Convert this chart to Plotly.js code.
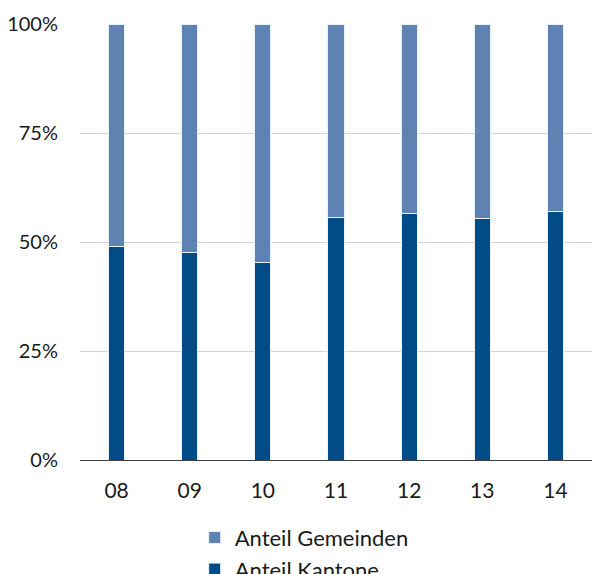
<!DOCTYPE html>
<html>
<head>
<meta charset="utf-8">
<script src="https://cdn.plot.ly/plotly-3.0.1.min.js"></script>
<style>html,body{margin:0;padding:0;background:#fff;}#chart{width:609px;height:574px;}</style>
</head>
<body>
<div id="chart"></div>
<script>
const years = ["08", "09", "10", "11", "12", "13", "14"];
const anteilKantone = [48.9, 47.7, 45.4, 55.7, 56.6, 55.3, 56.9];
const anteilGemeinden = [51.1, 52.3, 54.6, 44.3, 43.4, 44.7, 43.1];
const yTicks = [0, 25, 50, 75, 100];
const yTickLabels = ["0%", "25%", "50%", "75%", "100%"];

const font = "Lato, 'Open Sans', sans-serif";

const traces = [
  {
    type: "bar", name: "Anteil Kantone", x: years, y: anteilKantone,
    marker: {color: "#014C86", line: {color: "#e8f0fa", width: 1}},
    hoverinfo: "skip"
  },
  {
    type: "bar", name: "Anteil Gemeinden", x: years, y: anteilGemeinden,
    marker: {color: "#5E83B3", line: {color: "#e8f0fa", width: 1}},
    hoverinfo: "skip"
  }
];

const layout = {
  width: 609, height: 574,
  margin: {l: 80, r: 17, t: 24, b: 114, autoexpand: false},
  paper_bgcolor: "#fff", plot_bgcolor: "#fff",
  barmode: "stack",
  bargap: 0.78,
  font: {family: font, size: 20, color: "#1a1a1a"},
  xaxis: {
    type: "category",
    showgrid: false,
    showline: true, linecolor: "#404040", linewidth: 1,
    ticks: "", tickfont: {size: 21},
    ticklabelstandoff: 12
  },
  yaxis: {
    range: [0, 100],
    tickvals: yTicks, ticktext: yTickLabels,
    showgrid: true, gridcolor: "#d4d4d4", gridwidth: 1,
    zeroline: false, showline: false,
    ticks: "", tickfont: {size: 20},
    ticklabelstandoff: 21
  },
  showlegend: true,
  legend: {
    orientation: "v", traceorder: "reversed",
    x: 0.224, xanchor: "left", y: -0.13, yanchor: "top",
    font: {size: 22}, itemwidth: 30, tracegroupgap: 0,
    bgcolor: "rgba(0,0,0,0)"
  }
};

Plotly.newPlot("chart", traces, layout, {staticPlot: true});
</script>
</body>
</html>
